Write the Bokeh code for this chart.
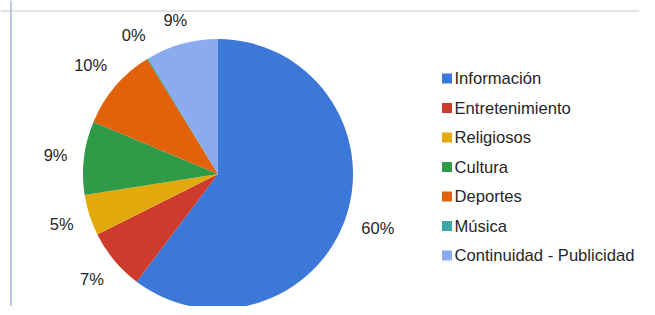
import numpy as np
from bokeh.plotting import figure
from bokeh.models import Range1d, Span, ColumnDataSource
from bokeh.core.properties import value
from bokeh.embed import file_html
from bokeh.resources import INLINE

categories = ["Información", "Entretenimiento", "Religiosos", "Cultura",
              "Deportes", "Música", "Continuidad - Publicidad"]
values = [60.3, 7.3, 4.9, 8.8, 9.9, 0.2, 8.6]
pct_labels = ["60%", "7%", "5%", "9%", "10%", "0%", "9%"]
colors = ["#3b78d8", "#cd3b2c", "#e2aa0d", "#2f9a48", "#e2620c", "#3aa7a7", "#8caaf0"]

W, H = 639, 306
# data coordinates: x = image x, y = 315 - image y
p = figure(width=W, height=H, output_backend="svg", toolbar_location=None,
           x_range=Range1d(0, W), y_range=Range1d(315 - H, 315),
           min_border=0)
p.axis.visible = False
p.grid.visible = False
p.outline_line_color = None
p.background_fill_color = "white"

# spreadsheet frame edges
p.add_layout(Span(location=10.5, dimension="height", line_color="#bccbe2", line_width=2))
p.add_layout(Span(location=304.5, dimension="width", line_color="#c8c8c8", line_width=1))

cx, cy, r = 217.5, 141.5, 135
vals = np.array(values, dtype=float)
frac = vals / vals.sum()
cum = np.concatenate([[0], np.cumsum(frac)])
# clockwise from 12 o'clock
start = np.pi / 2 - cum[1:] * 2 * np.pi
end = np.pi / 2 - cum[:-1] * 2 * np.pi
src = ColumnDataSource(dict(start=start, end=end, color=colors))
p.wedge(x=cx, y=cy, radius=r, start_angle="start", end_angle="end",
        fill_color="color", line_color=None, source=src)

# outside labels: box kept at a fixed gap from the pie edge
fs = 16.5
mid = np.pi / 2 - (cum[:-1] + frac / 2) * 2 * np.pi
tw = np.array([(0.556 * (len(t) - 1) + 0.889) * fs for t in pct_labels])
th = 0.72 * fs
gap = 16
dist = r + gap + np.abs(np.cos(mid)) * tw / 2 + np.abs(np.sin(mid)) * th / 2
p.text(x=cx + dist * np.cos(mid), y=cy + dist * np.sin(mid), text=pct_labels,
       text_font=value("Liberation Sans"), text_font_size=f"{fs}px",
       text_color="#262626", text_align="center", text_baseline="middle")

# legend
n = len(categories)
ly0, dy = 315 - 78, 29.5
ly = ly0 - dy * np.arange(n)
p.rect(x=[446.5] * n, y=ly, width=10, height=10, fill_color=colors, line_color=None)
p.text(x=[454] * n, y=ly, text=categories, text_font=value("Liberation Sans"),
       text_font_size="16.6px", text_color="#262626", text_align="left",
       text_baseline="middle")

open("out.html", "w").write(file_html(p, INLINE))
